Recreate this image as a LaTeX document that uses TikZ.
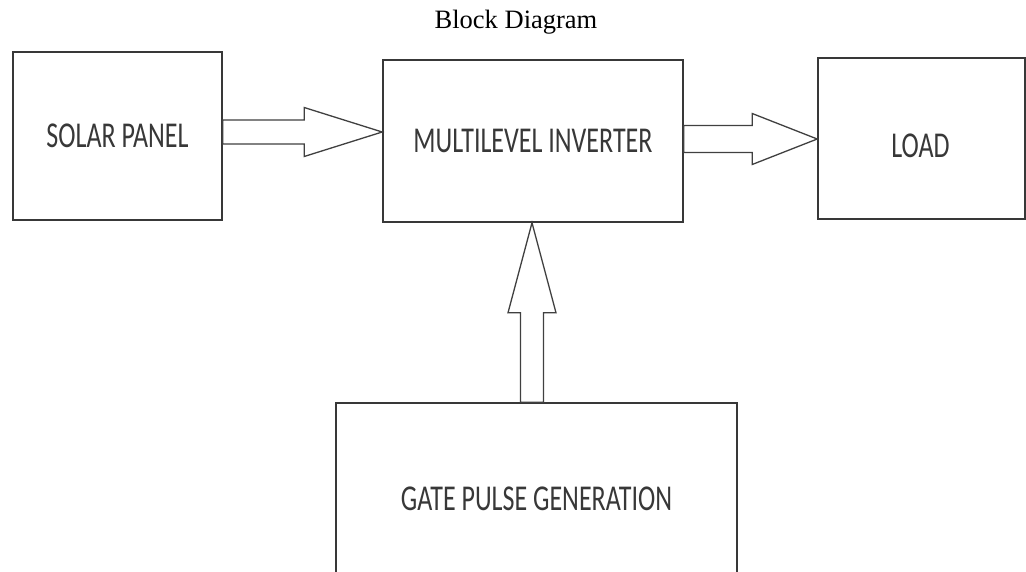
\documentclass[tikz,border=0pt]{standalone}
\usepackage{graphicx}
\usepackage{fontspec}
\setmainfont{Liberation Serif}
\newfontfamily\boxfont{Carlito}
\usetikzlibrary{calc}
\tikzset{
  blk/.style={draw=black!78, line width=1.6pt, fill=white, inner sep=0pt,
    font=\boxfont\fontsize{26}{30}\selectfont, text=black!78},
  lbl/.style={font=\boxfont\fontsize{26}{30}\selectfont, text=black!78, inner sep=0pt},
  harrow/.style n args={3}{line width=1.3pt, draw=black!75, line join=miter,
    to path={let \p1=(\tikztostart), \p2=(\tikztotarget) in
      (\x1,\y1+#1) -- (\x2-#3,\y1+#1) -- (\x2-#3,\y1+#2) -- (\x2,\y1)
      -- (\x2-#3,\y1-#2) -- (\x2-#3,\y1-#1) -- (\x1,\y1-#1) -- cycle}},
  varrow/.style n args={3}{line width=1.3pt, draw=black!75, line join=miter,
    to path={let \p1=(\tikztostart), \p2=(\tikztotarget) in
      (\x1-#1,\y1) -- (\x1-#1,\y2-#3) -- (\x1-#2,\y2-#3) -- (\x1,\y2)
      -- (\x1+#2,\y2-#3) -- (\x1+#1,\y2-#3) -- (\x1+#1,\y1) -- cycle}}
}
\begin{document}
\begin{tikzpicture}[x=1pt,y=-1pt]
\useasboundingbox (0,0) rectangle (1026,571);
\clip (0,0) rectangle (1026,571);
\fill[white] (0,0) rectangle (1026,571);
\node (title) at (516,22) {\fontsize{26.5}{30}\selectfont Block Diagram};
\node[blk, minimum width=209pt, minimum height=168pt] (sp) at (117.5,136)
  {\scalebox{1}[1.4]{SOLAR PANEL}};
\node[blk, minimum width=300pt, minimum height=162pt] (inv) at (533,141)
  {\scalebox{1}[1.4]{MULTILEVEL INVERTER}};
\node[blk, minimum width=207pt, minimum height=161pt,
  label={[lbl, yshift=-7pt, xshift=-1pt]center:\scalebox{1}[1.4]{LOAD}}] (load) at (921.5,138.5) {};
\node[blk, minimum width=401pt, minimum height=197pt, text depth=0pt] (gate) at (536.5,501.5)
  {\raisebox{6pt}{\scalebox{1}[1.4]{GATE PULSE GENERATION}}};
\draw[harrow={12pt}{24.5pt}{78pt}] ([yshift=4pt]sp.east) to (inv.west);
\draw[harrow={13.5pt}{25.5pt}{65pt}] ([yshift=2pt]inv.east) to (load.west);
\draw[varrow={11.5pt}{24pt}{90pt}] ([xshift=-4.5pt]gate.north) to (inv.south);
\end{tikzpicture}
\end{document}
